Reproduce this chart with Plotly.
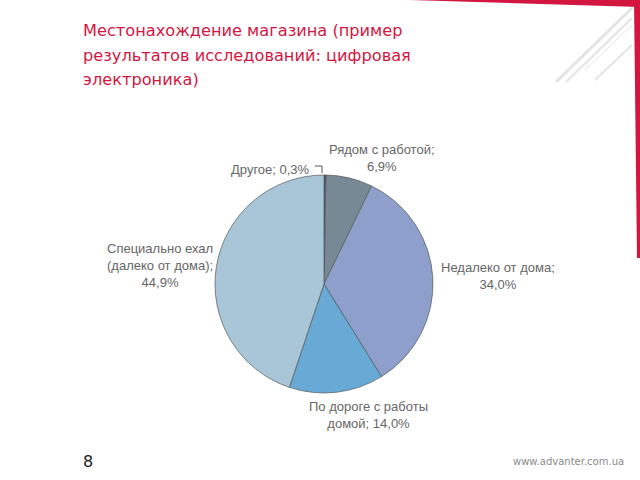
import plotly.graph_objects as go

# Data
categories = ["Другое", "Рядом с работой", "Недалеко от дома", "По дороге с работы домой", "Специально ехал (далеко от дома)"]
values = [0.3, 6.9, 34.0, 14.0, 44.9]
colors = ["#3E5A6A", "#778995", "#8E9FCB", "#68AAD5", "#A8C6D8"]

title_lines = ["Местонахождение магазина (пример", "результатов исследований: цифровая", "электроника)"]

def pct(v):
    return f"{v:.1f}".replace(".", ",") + "%"

W, H = 640, 480


def px(x):
    return x / W


def py(y):
    return 1 - y / H


CX, CY, R = 324, 284, 109

fig = go.Figure()
fig.add_trace(go.Pie(
    labels=categories, values=values, sort=False, direction="clockwise", rotation=0,
    marker=dict(colors=colors, line=dict(color="#55585A", width=0.7)),
    textinfo="none", hoverinfo="label+percent", showlegend=False,
    domain=dict(x=[px(CX - R), px(CX + R)], y=[py(CY + R), py(CY - R)]),
))

label_color = "#666666"
lab_font = dict(family="Liberation Sans, Arial", size=13, color=label_color)

anns = []
anns.append(dict(x=px(382), y=py(158), text=f"{categories[1]};<br>{pct(values[1])}", xanchor="center", yanchor="middle"))
anns.append(dict(x=px(312), y=py(169), text=f"{categories[0]}; {pct(values[0])}", xanchor="right", yanchor="middle"))
anns.append(dict(x=px(160), y=py(265), text="Специально ехал<br>(далеко от дома);<br>" + pct(values[4]), xanchor="center", yanchor="middle"))
anns.append(dict(x=px(498), y=py(276), text=f"{categories[2]};<br>{pct(values[2])}", xanchor="center", yanchor="middle"))
anns.append(dict(x=px(368), y=py(415), text="По дороге с работы<br>домой; " + pct(values[3]), xanchor="center", yanchor="middle"))
for a in anns:
    a.update(xref="paper", yref="paper", showarrow=False, font=lab_font, align="center")

# title
for i, line in enumerate(title_lines):
    anns.append(dict(x=px(81), y=py(30 + 25 * i), text=line, xref="paper", yref="paper", showarrow=False,
                     xanchor="left", yanchor="middle",
                     font=dict(family="DejaVu Sans", size=16.2, color="#D3163F")))
# footer
anns.append(dict(x=px(81), y=py(461), text="8", xref="paper", yref="paper", showarrow=False,
                 xanchor="left", yanchor="middle", font=dict(family="DejaVu Sans", size=16, color="#222222")))
anns.append(dict(x=px(626), y=py(461), text="www.advanter.com.ua", xref="paper", yref="paper", showarrow=False,
                 xanchor="right", yanchor="middle", font=dict(family="DejaVu Sans", size=10, color="#8A8A8A")))

shapes = []
# leader for "Другое"
shapes.append(dict(type="path", xref="paper", yref="paper",
                   path=f"M {px(315)} {py(166)} L {px(322)} {py(166)} L {px(322)} {py(173)}",
                   line=dict(color="#555555", width=1)))
# red corner decoration
shapes.append(dict(type="path", xref="paper", yref="paper",
                   path=f"M {px(410)} {py(0)} L {px(640)} {py(0)} L {px(640)} {py(7)} Z",
                   fillcolor="#D3163F", line=dict(width=0)))
shapes.append(dict(type="path", xref="paper", yref="paper",
                   path=f"M {px(634)} {py(0)} L {px(640)} {py(0)} L {px(640)} {py(258)} L {px(637)} {py(258)} Z",
                   fillcolor="#D3163F", line=dict(width=0)))
# faint diagonal decoration
for (x0, y0, x1, y1, w) in [(556, 82, 632, 8, 3), (566, 82, 632, 18, 2), (595, 80, 632, 45, 2), (585, 70, 632, 25, 1)]:
    shapes.append(dict(type="line", xref="paper", yref="paper", x0=px(x0), y0=py(y0), x1=px(x1), y1=py(y1),
                       line=dict(color="#E4E4E4", width=w)))

fig.update_layout(width=W, height=H, margin=dict(l=0, r=0, t=0, b=0),
                  paper_bgcolor="white", plot_bgcolor="white",
                  annotations=anns, shapes=shapes)

fig.write_html("out.html", config={"displayModeBar": False},
               post_script="document.body.style.margin='0';document.body.style.overflow='hidden';")
